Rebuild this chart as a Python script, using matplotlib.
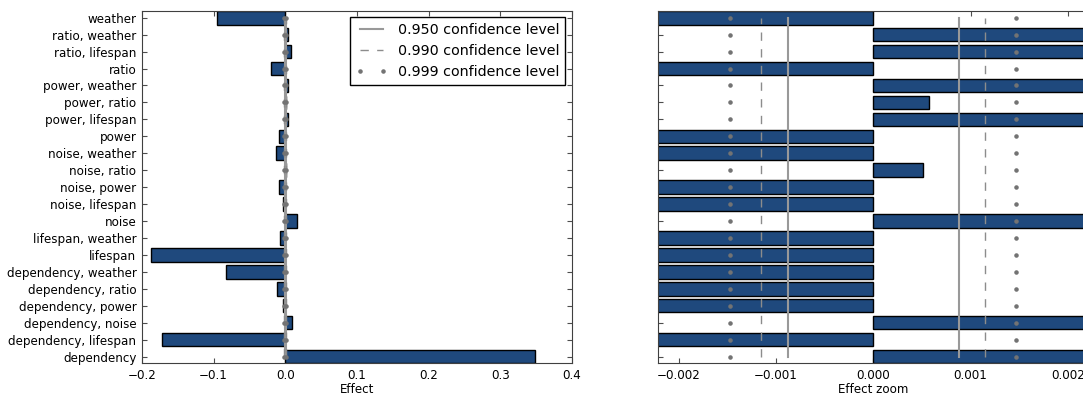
import numpy as np
import matplotlib
matplotlib.use("Agg")
import matplotlib.pyplot as plt

# effects, top to bottom as shown in the chart
labels = ["weather", "ratio, weather", "ratio, lifespan", "ratio",
          "power, weather", "power, ratio", "power, lifespan", "power",
          "noise, weather", "noise, ratio", "noise, power", "noise, lifespan",
          "noise", "lifespan, weather", "lifespan", "dependency, weather",
          "dependency, ratio", "dependency, power", "dependency, noise",
          "dependency, lifespan", "dependency"]
effects = [-0.0947, 0.0040, 0.0074, -0.0200,
           0.0040, 0.00057, 0.0032, -0.0084,
           -0.0130, 0.00051, -0.0084, -0.0033,
           0.0163, -0.0070, -0.1880, -0.0826,
           -0.0122, -0.0038, 0.0093,
           -0.1726, 0.3480]
# confidence half-widths
conf_levels = ["0.950", "0.990", "0.999"]
conf_widths = [0.00088, 0.00115, 0.00147]

plt.rcParams['font.family'] = 'DejaVu Sans'
plt.rcParams['font.size'] = 8.6

# bottom-to-top order for barh
labels_r = labels[::-1]
effects_r = effects[::-1]
y = np.arange(len(labels_r))

fig = plt.figure(figsize=(10.83, 3.96), dpi=100)
ax1 = fig.add_axes([0.1311, 0.0826, 0.397, 0.8897])
ax2 = fig.add_axes([0.6079, 0.0826, 0.397, 0.8897])

bar_color = "#1f497d"
for ax in (ax1, ax2):
    ax.barh(y, effects_r, height=0.8, color=bar_color, edgecolor="black",
            linewidth=1, zorder=2)
    yy = [y[0], y[-1]]
    ax.plot([-conf_widths[0]] * 2, yy, color="0.6", lw=1.5, zorder=3,
            label=conf_levels[0] + " confidence level")
    ax.plot([conf_widths[0]] * 2, yy, color="0.6", lw=1.5, zorder=3)
    ax.plot([-conf_widths[1]] * 2, yy, color="0.55", lw=1, ls=(0, (6, 6)),
            zorder=3, label=conf_levels[1] + " confidence level")
    ax.plot([conf_widths[1]] * 2, yy, color="0.55", lw=1, ls=(0, (6, 6)),
            zorder=3)
    ax.plot([-conf_widths[2]] * len(y), y, ls="none", marker=".", ms=4.5,
            color="0.45", zorder=3, label=conf_levels[2] + " confidence level")
    ax.plot([conf_widths[2]] * len(y), y, ls="none", marker=".", ms=4.5,
            color="0.45", zorder=3)
    ax.set_ylim(-0.4, len(y) - 0.6)
    ax.set_yticks(y)
    ax.tick_params(direction="in", top=True, right=True, length=3.5,
                   color="0.3", pad=4)
    for s in ax.spines.values():
        s.set_color("0.25")

ax1.set_yticklabels(labels_r)
ax1.set_xlim(-0.2, 0.4)
ax1.set_xticks([-0.2, -0.1, 0.0, 0.1, 0.2, 0.3, 0.4])
ax1.set_xticklabels(["\u22120.2", "\u22120.1", "0.0", "0.1", "0.2", "0.3", "0.4"])
ax1.set_xlabel("Effect", labelpad=1)
ax1.legend(loc="upper right", numpoints=2, fontsize=10.3, fancybox=False,
           edgecolor="black", framealpha=1, handlelength=2.2,
           borderaxespad=0.45)

ax2.set_yticklabels([])
ax2.set_xlim(-0.00221, 0.00221)
ax2.set_xticks([-0.002, -0.001, 0.0, 0.001, 0.002])
ax2.set_xticklabels(["\u22120.002", "\u22120.001", "0.000", "0.001", "0.002"])
ax2.set_xlabel("Effect zoom", labelpad=1)

fig.savefig("out.png", dpi=100)
